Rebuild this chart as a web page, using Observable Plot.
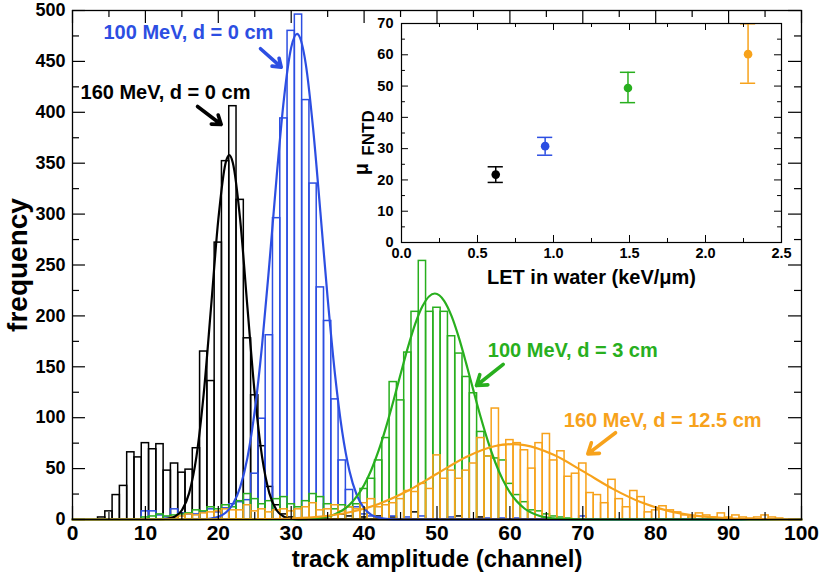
<!DOCTYPE html>
<html><head><meta charset="utf-8">
<script src="https://cdn.jsdelivr.net/npm/d3@7"></script>
<script src="https://cdn.jsdelivr.net/npm/@observablehq/plot@0.6"></script>
<style>
body{margin:0;background:#fff;}
#wrap{position:relative;width:819px;height:574px;overflow:hidden;}
#inset{position:absolute;left:350px;top:15px;}
</style></head><body><div id="wrap"><div id="main"></div><div id="inset"></div></div>
<script>
const FONT = "'Liberation Sans', Arial, Helvetica, sans-serif";
const BLACK = "#000000", BLUE = "#2c4ee2", GREEN = "#28af1e", ORANGE = "#f7a21b";

// ---- histograms (channel, counts) ----
const blackCh = [4,5,6,7,8,9,10,11,12,13,14,15,16,17,18,19,20,21,22,23,24,25,26,27,28,29,30,37,38,40,42,44,47,53,56];
const blackN  = [2,8,24,33,66,61,75,69,74,48,55,46,49,70,165,136,272,352,406,314,178,122,72,32,14,5,2,5,3,2,3,2,7,3,2];

const blueCh = [10,11,12,13,14,15,16,17,18,19,20,21,22,23,24,25,26,27,28,29,30,31,32,33,34,35,36,37,38,39,40,41,42,44,46,48,52,57,59,61,70];
const blueN  = [8,8,4,2,10,6,5,5,7,10,7,11,15,17,19,45,99,181,296,394,480,496,412,330,228,195,118,58,29,12,5,3,2,3,2,3,2,1,1,1,3];

const greenCh = [10,11,12,13,14,15,16,17,18,19,20,21,22,23,24,25,26,27,28,29,30,31,32,33,34,35,36,37,38,39,40,41,42,43,44,45,46,47,48,49,50,51,52,53,54,55,56,57,58,59,60,61,62,63,64,65,66,67,68];
const greenN  = [2,3,5,3,4,5,6,9,8,12,10,14,12,18,25,20,15,18,20,22,15,12,18,25,22,15,10,14,12,15,30,40,58,80,135,117,164,204,254,204,208,204,180,163,140,124,86,62,60,58,35,24,17,9,8,5,3,2,1];

const orangeCh = [14,15,16,17,18,19,20,21,22,23,24,25,26,27,28,29,30,31,32,33,34,35,36,37,38,39,40,41,42,43,44,45,46,47,48,49,50,51,52,53,54,55,56,57,58,59,60,61,62,63,64,65,66,67,68,69,70,71,72,73,74,75,76,77,78,79,80,81,82,83,84,85,86,87,88,89,90,91,92,93,94,95,96,97];
const orangeN  = [2,3,5,4,6,7,8,10,9,9,14,8,10,7,9,10,8,10,12,16,9,10,14,8,12,10,16,20,12,14,16,20,28,27,35,30,63,40,48,40,48,55,80,62,109,73,78,75,68,50,75,84,58,67,42,45,55,26,24,16,39,20,12,28,22,7,9,13,9,7,4,2,6,4,2,6,2,4,2,1,2,4,2,1];

// ---- Gaussian fit curves ----
const blackFitX = [0,10,12,13,14,15,16,17,18,19,20,21,21.5,22,23,24,25,26,27,28,29,30,31,33,100];
const blackFitY = [0,0,0.1,0.7,2.7,9.1,25.9,61.7,123.6,208.1,294.5,350.3,358,350.3,294.5,208.1,123.6,61.7,25.9,9.1,2.7,0.7,0.1,0,0];
const blueFitX = [0,16,18,19,20,21,22,23,24,25,26,27,28,29,30,30.8,31,32,33,34,35,36,37,38,39,40,41,42,43,45,100];
const blueFitY = [0,0,0.3,1.0,2.6,6.6,15.2,31.7,60.8,106.6,171,250.8,336.4,412.9,463.6,477,476,447.4,384.5,302.3,217.4,143.1,86.1,47.4,23.9,11,4.6,1.8,0.6,0,0];
const greenFitX = [0,30,32,34,36,38,40,41,42,43,44,45,46,47,48,49.7,51,52,53,54,55,56,57,58,59,60,62,64,66,68,70,100];
const greenFitY = [0,0,0.4,1.6,5.2,14.4,33.8,48.9,67.8,90.5,115.9,142.7,168.8,191.9,209.5,222,214.6,199.7,178.6,153.4,126.6,100.4,76.5,56,39.4,26.6,10.8,3.7,1.1,0.3,0,0];
const orangeFitX = [0,22,26,30,34,38,42,46,50,54,58,60.3,62,66,70,74,78,82,86,90,94,98,100];
const orangeFitY = [0,0.05,0.3,1.0,2.8,7.1,15.3,28.2,44.9,61.4,72.2,74,73,63.5,47.5,30.6,16.9,8.0,3.3,1.2,0.35,0.1,0];

// ---- annotations ----
const annoText = ["160 MeV, d = 0 cm", "100 MeV, d = 0 cm", "100 MeV, d = 3 cm", "160 MeV, d = 12.5 cm"];
const annoX = [1.1, 4.25, 56.97, 67.4];
const annoY = [419.7, 478.7, 166, 97.2];
const arrowX1 = [17.15, 25.79, 59.08, 74.49];
const arrowY1 = [405.7, 462.4, 152.3, 85.2];
const arrowX2 = [20.4, 28.63, 55.42, 70.69];
const arrowY2 = [388, 444.3, 131.6, 64.5];
const seriesColors = [BLACK, BLUE, GREEN, ORANGE];

// ---- main axes ----
const xTicks = [0,10,20,30,40,50,60,70,80,90,100];
const yTicks = [0,50,100,150,200,250,300,350,400,450,500];

// ---- inset data ----
const letX   = [0.62, 0.945, 1.49, 2.28];
const muFNTD = [21.7, 30.8, 49.4, 60.2];
const muLo   = [19.2, 27.9, 44.7, 50.9];
const muHi   = [24.2, 33.6, 54.4, 69.9];
const insetXTicks = [0, 0.5, 1.0, 1.5, 2.0, 2.5];
const insetYTicks = [0, 10, 20, 30, 40, 50, 60, 70];

const hist = (ch, n) => ch.map((c, i) => ({c, n: n[i]}));
const fit = (xs, ys) => xs.map((x, i) => ({x, y: ys[i]}));

function histMark(ch, n, color) {
  return Plot.rect(hist(ch, n), {x1: d => d.c - 0.5, x2: d => d.c + 0.5, y1: 0, y2: "n",
    fill: "none", stroke: color, strokeWidth: 1.5});
}
function fitMark(xs, ys, color) {
  return Plot.line(fit(xs, ys), {x: "x", y: "y", curve: "monotone-x", stroke: color, strokeWidth: 2.2});
}

const xMinor = xTicks.slice(0, -1).map(v => v + 5);
const yMinor = yTicks.slice(0, -1).map(v => v + 25);
const tk = {stroke: "black", strokeWidth: 1.2};

const annoMarks = [];
for (let i = 0; i < 4; i++) {
  annoMarks.push(Plot.text([annoText[i]], {x: () => annoX[i], y: () => annoY[i], text: d => d,
    textAnchor: "start", fill: seriesColors[i], fontSize: 20, fontWeight: "bold", fontFamily: FONT}));
  annoMarks.push(Plot.arrow([i], {x1: () => arrowX1[i], y1: () => arrowY1[i], x2: () => arrowX2[i], y2: () => arrowY2[i],
    stroke: seriesColors[i], strokeWidth: 3.6, headLength: 11, headAngle: 70}));
}

const main = Plot.plot({
  width: 819, height: 574,
  marginLeft: 72, marginRight: 18, marginTop: 10, marginBottom: 55,
  x: {domain: [0, 100]},
  y: {domain: [0, 500]},
  style: {fontFamily: FONT, background: "white", color: "black"},
  marks: [
    histMark(blackCh, blackN, BLACK),
    histMark(blueCh, blueN, BLUE),
    histMark(greenCh, greenN, GREEN),
    histMark(orangeCh, orangeN, ORANGE),
    fitMark(blackFitX, blackFitY, BLACK),
    fitMark(blueFitX, blueFitY, BLUE),
    fitMark(greenFitX, greenFitY, GREEN),
    fitMark(orangeFitX, orangeFitY, ORANGE),
    Plot.ruleX(xTicks, {x: d => d, y1: 0, y2: 12.8, ...tk}),
    Plot.ruleX(xMinor, {x: d => d, y1: 0, y2: 6.9, ...tk}),
    Plot.ruleX(xTicks, {x: d => d, y1: 487.2, y2: 500, ...tk}),
    Plot.ruleX(xMinor, {x: d => d, y1: 493.1, y2: 500, ...tk}),
    Plot.ruleY(yTicks, {y: d => d, x1: 0, x2: 1.78, ...tk}),
    Plot.ruleY(yMinor, {y: d => d, x1: 0, x2: 0.96, ...tk}),
    Plot.ruleY(yTicks, {y: d => d, x1: 98.22, x2: 100, ...tk}),
    Plot.ruleY(yMinor, {y: d => d, x1: 99.04, x2: 100, ...tk}),
    Plot.frame({stroke: "black", strokeWidth: 1.3}),
    Plot.axisX({ticks: xTicks, tickSize: 0, tickPadding: 6, fontSize: 21, fontWeight: "bold", label: null}),
    Plot.axisY({ticks: yTicks, tickSize: 0, tickPadding: 7, fontSize: 18, fontWeight: "bold", label: null}),
    Plot.text(["track amplitude (channel)"], {frameAnchor: "bottom", lineAnchor: "middle", textAnchor: "middle", dy: 40, text: d => d, fontSize: 24, fontWeight: "bold"}),
    Plot.text(["frequency"], {frameAnchor: "left", lineAnchor: "middle", textAnchor: "middle", dx: -54, rotate: -90, text: d => d, fontSize: 28, fontWeight: "bold"}),
    ...annoMarks
  ]
});
document.getElementById("main").appendChild(main);

// ---- inset ----
const pts = letX.map((x, i) => ({x, y: muFNTD[i], lo: muLo[i], hi: muHi[i], color: seriesColors[i]}));
const ixMinor = insetXTicks.slice(0, -1).map(v => v + 0.25);
const iyMinor = insetYTicks.slice(0, -1).map(v => v + 5);
const itk = {stroke: "black", strokeWidth: 1};
const insetMarks = [Plot.frame({fill: "white", stroke: null})];
for (const p of pts) {
  insetMarks.push(Plot.ruleX([p], {x: "x", y1: "lo", y2: "hi", stroke: p.color, strokeWidth: 1.5}));
  insetMarks.push(Plot.ruleY([p], {y: "lo", x1: d => d.x - 0.05, x2: d => d.x + 0.05, stroke: p.color, strokeWidth: 1.5}));
  insetMarks.push(Plot.ruleY([p], {y: "hi", x1: d => d.x - 0.05, x2: d => d.x + 0.05, stroke: p.color, strokeWidth: 1.5}));
  insetMarks.push(Plot.dot([p], {x: "x", y: "y", r: 4.3, fill: p.color, stroke: null}));
}
insetMarks.push(
  Plot.ruleX(insetXTicks, {x: d => d, y1: 0, y2: 2.24, ...itk}),
  Plot.ruleX(ixMinor, {x: d => d, y1: 0, y2: 1.28, ...itk}),
  Plot.ruleX(insetXTicks, {x: d => d, y1: 67.76, y2: 70, ...itk}),
  Plot.ruleX(ixMinor, {x: d => d, y1: 68.72, y2: 70, ...itk}),
  Plot.ruleY(insetYTicks, {y: d => d, x1: 0, x2: 0.046, ...itk}),
  Plot.ruleY(iyMinor, {y: d => d, x1: 0, x2: 0.026, ...itk}),
  Plot.ruleY(insetYTicks, {y: d => d, x1: 2.454, x2: 2.5, ...itk}),
  Plot.ruleY(iyMinor, {y: d => d, x1: 2.474, x2: 2.5, ...itk}),
  Plot.frame({stroke: "black", strokeWidth: 1.2}),
  Plot.axisX({ticks: insetXTicks, tickFormat: d3.format(".1f"), tickSize: 0, tickPadding: 5, fontSize: 14.5, fontWeight: "bold", label: null}),
  Plot.axisY({ticks: insetYTicks, tickSize: 0, tickPadding: 8, fontSize: 14.5, fontWeight: "bold", label: null}),
  Plot.text(["LET in water (keV/\u03bcm)"], {frameAnchor: "bottom", lineAnchor: "middle", textAnchor: "middle", dy: 35, text: d => d, fontSize: 20, fontWeight: "bold"}),
  Plot.text(["FNTD"], {frameAnchor: "left", lineAnchor: "middle", textAnchor: "middle", dx: -33, dy: 0, rotate: -90, text: d => d, fontSize: 17, fontWeight: "bold"}),
  Plot.text(["\u03bc"], {frameAnchor: "left", lineAnchor: "middle", textAnchor: "middle", dx: -40, dy: 36, rotate: -90, text: d => d, fontSize: 20, fontWeight: "bold"})
);
const inset = Plot.plot({
  width: 445, height: 275,
  marginLeft: 51, marginRight: 14, marginTop: 8, marginBottom: 48,
  x: {domain: [0, 2.5]},
  y: {domain: [0, 70]},
  style: {fontFamily: FONT, background: "transparent", color: "black", overflow: "visible"},
  marks: insetMarks
});
document.getElementById("inset").appendChild(inset);
</script>
</body></html>
